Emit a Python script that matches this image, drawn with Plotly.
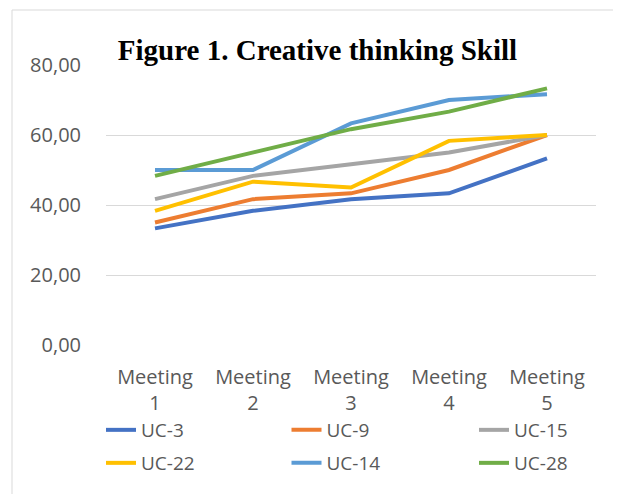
import plotly.graph_objects as go

categories = ["Meeting<br>1", "Meeting<br>2", "Meeting<br>3", "Meeting<br>4", "Meeting<br>5"]
series_names = ["UC-3", "UC-9", "UC-15", "UC-22", "UC-14", "UC-28"]
uc3 = [33.33, 38.33, 41.67, 43.33, 53.33]
uc9 = [35.00, 41.67, 43.33, 50.00, 60.00]
uc15 = [41.67, 48.33, 51.67, 55.00, 60.00]
uc22 = [38.33, 46.67, 45.00, 58.33, 60.00]
uc14 = [50.00, 50.00, 63.33, 70.00, 71.67]
uc28 = [48.33, 55.00, 61.67, 66.67, 73.33]
y_ticks = [0, 20, 40, 60, 80]

values = [uc3, uc9, uc15, uc22, uc14, uc28]
colors = ["#4472C4", "#ED7D31", "#A5A5A5", "#FFC000", "#5B9BD5", "#70AD47"]

W, H = 621, 494
OFF = 8  # page body margin offset
# target screen pixels of plot area
PL, PR, PT, PB = 106, 596, 65, 345
L, R, T, B = PL - OFF, W - (PR - OFF), PT - OFF, H - (PB - OFF)

legend_ids = ["legend", "legend2", "legend3", "legend4", "legend5", "legend6"]
col_x = [101, 286.5, 474]
row_y = [430, 463]

fig = go.Figure()
for i, (name, vals, col) in enumerate(zip(series_names, values, colors)):
    fig.add_trace(go.Scatter(
        x=categories, y=vals, mode="lines", name=name,
        line=dict(color=col, width=4), legend=legend_ids[i],
    ))

def px_x(p):
    return (p - OFF - L) / (W - L - R)

def px_y(p):
    return 1 - (p - OFF - T) / (H - T - B)

legend_layout = {}
for i, lid in enumerate(legend_ids):
    legend_layout[lid] = dict(
        orientation="h", xref="container", yref="container",
        xanchor="left", yanchor="middle",
        x=(col_x[i % 3] - OFF) / W, y=1 - (row_y[i // 3] - OFF) / H,
        font=dict(family="Open Sans", size=19, color="#595959"),
        bgcolor="rgba(0,0,0,0)", borderwidth=0,
        itemclick=False, itemdoubleclick=False,
    )

fig.update_layout(
    width=W, height=H,
    margin=dict(l=L, r=R, t=T, b=B),
    paper_bgcolor="white", plot_bgcolor="white",
    separators=",.",
    title=dict(
        text="<b>Figure 1. Creative thinking Skill</b>",
        font=dict(family="Liberation Serif", size=29, color="black"),
        x=(317.5 - OFF) / W, xanchor="center", xref="container",
        y=1 - (49.5 - OFF) / H, yanchor="middle", yref="container",
    ),
    xaxis=dict(
        range=[-0.5, 4.5], showgrid=False, zeroline=False, showline=False,
        ticks="", tickfont=dict(family="Open Sans", size=20, color="#595959"),
        ticklabelstandoff=18, fixedrange=True, automargin=False,
    ),
    yaxis=dict(
        range=[0, 80], tickvals=y_ticks, tickformat=".2f",
        showgrid=True, gridcolor="#D9D9D9", gridwidth=1,
        zeroline=False, showline=False, ticks="",
        tickfont=dict(family="Open Sans", size=20, color="#595959"),
        ticklabelstandoff=24, fixedrange=True, automargin=False,
    ),
    showlegend=True,
    shapes=[dict(
        type="rect", xref="paper", yref="paper",
        x0=px_x(12), x1=px_x(616), y0=px_y(10), y1=px_y(540),
        line=dict(color="#D9D9D9", width=1), fillcolor="rgba(0,0,0,0)",
        layer="below",
    )],
    **legend_layout,
)

fig.write_html("out.html")
